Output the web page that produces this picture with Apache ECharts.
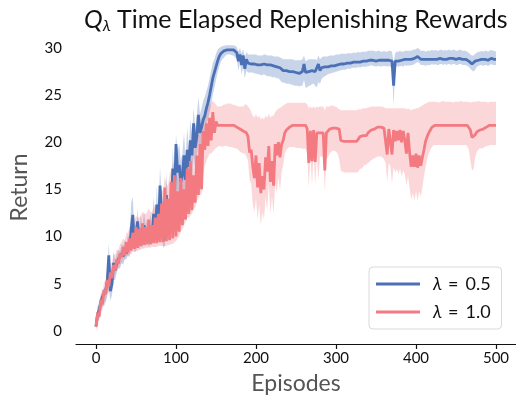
<!DOCTYPE html>
<html>
<head>
<meta charset="utf-8">
<script src="https://cdn.jsdelivr.net/npm/echarts@6/dist/echarts.min.js"></script>
<style>
html,body{margin:0;padding:0;background:#fff;}
#c{width:516px;height:404px;}
</style>
</head>
<body>
<div id="c"></div>
<script>
// Episodes sampled every 2 steps (0..500)
const EP_STEP = 2;
const xTicks = [0, 100, 200, 300, 400, 500];
const yTicks = [0, 5, 10, 15, 20, 25, 30];
const seriesNames = ['λ = 0.5', 'λ = 1.0'];

// lambda = 0.5 (blue): mean, lower band, upper band
const blueMean = [
 0.5,1.8,2.2,3.0,3.6,3.4,4.2,5.2,8.0,4.2,
 5.0,7.2,6.4,7.2,7.6,7.4,8.2,7.9,8.6,8.2,
 9.0,8.6,10.8,12.3,9.2,9.0,11.6,9.4,10.8,9.6,
 11.2,9.8,10.5,9.6,10.8,9.8,12.4,10.0,13.4,10.6,
 15.4,12.6,9.6,9.8,14.4,11.2,13.8,12.6,17.2,14.0,
 19.8,16.8,17.6,15.8,16.4,18.6,16.0,19.2,17.4,20.2,
 18.6,22.0,19.4,20.6,22.9,21.0,21.6,22.4,22.8,23.6,
 24.2,25.0,25.9,26.8,27.4,28.0,28.6,29.1,29.4,29.6,
 29.7,
 29.8,29.8,29.8,29.8,29.8,29.8,29.7,29.5,28.6,29.3,
 28.2,29.2,27.8,28.8,28.4,28.4,28.3,28.3,28.3,28.3,
 28.2,28.2,28.2,28.2,28.3,28.3,28.2,28.2,28.2,28.2,
 28.1,28.1,28.0,28.0,27.9,27.7,27.6,27.6,27.6,27.5,
 27.5,27.5,27.5,27.4,27.4,27.4,27.3,27.4,27.5,28.3,
 27.4,27.4,27.5,27.5,27.6,27.6,27.5,27.4,28.3,27.6,
 27.9,28.0,28.0,28.0,28.0,28.1,28.1,28.1,28.1,28.2,
 28.2,28.2,28.3,28.3,28.3,28.3,28.4,28.4,28.4,28.5,
 28.5,28.5,28.5,28.6,28.5,28.6,28.6,28.6,28.6,28.7,
 28.7,28.8,28.7,28.7,28.6,28.7,28.7,28.6,28.7,28.7,
 28.7,28.6,28.7,28.7,28.6,26.0,28.6,28.7,28.6,28.7,
 28.7,28.6,28.8,28.7,28.8,28.7,28.8,28.8,28.9,29.0,
 29.1,29.0,28.8,28.8,28.8,28.7,28.8,28.8,28.8,28.9,
 28.8,28.9,28.8,28.8,28.9,28.9,28.8,28.9,28.8,28.9,
 28.9,28.8,28.9,28.9,28.8,28.8,28.9,28.9,28.8,28.8,
 28.8,28.7,28.6,28.4,28.3,28.4,28.6,28.7,28.7,28.8,
 28.8,28.7,28.8,28.8,28.7,28.8,28.9,28.8,28.8,28.8
];
const blueLow = [
 0.2,1.0,1.4,2.0,2.6,2.6,3.0,3.6,4.4,3.2,
 3.8,5.4,5.4,6.2,6.6,6.6,7.2,7.0,7.6,7.6,
 8.0,7.8,8.6,9.6,8.4,8.4,9.0,8.6,9.0,8.8,
 9.2,9.0,9.2,8.9,9.2,9.1,9.6,9.2,10.4,9.6,
 11.6,10.0,8.8,9.0,10.6,9.8,10.6,10.6,12.4,11.6,
 15.0,13.6,14.0,13.2,13.8,15.2,13.8,16.0,15.0,17.0,
 16.2,18.6,17.2,18.2,20.0,18.8,19.6,20.4,21.0,21.8,
 22.4,23.2,24.0,25.0,25.8,26.6,27.4,28.0,28.5,28.8,
 29.0,
 29.2,29.3,29.3,29.3,29.2,29.2,29.0,28.8,27.6,28.4,
 27.2,28.0,26.8,27.6,27.4,27.4,27.4,27.4,27.3,27.3,
 27.2,27.2,27.1,27.1,27.2,27.1,27.0,27.0,27.0,26.9,
 26.9,26.9,26.8,26.8,26.6,26.4,26.3,26.3,26.2,26.2,
 26.2,26.1,26.1,26.0,26.0,26.0,25.9,26.0,26.0,26.6,
 25.8,25.8,26.0,26.0,26.2,26.2,26.0,25.8,26.4,26.2,
 26.7,26.9,27.0,27.1,27.2,27.3,27.3,27.4,27.4,27.5,
 27.5,27.6,27.6,27.7,27.7,27.7,27.8,27.8,27.8,27.9,
 27.9,27.9,27.9,28.0,27.9,28.0,28.0,28.0,28.0,28.1,
 28.1,28.2,28.1,28.1,28.0,28.1,28.1,28.0,28.1,28.1,
 28.1,28.0,28.1,28.0,27.8,23.8,27.9,28.1,28.0,28.1,
 28.1,28.0,28.2,28.1,28.2,28.1,28.2,28.2,28.3,28.4,
 28.5,28.4,28.2,28.2,28.2,28.1,28.2,28.2,28.2,28.3,
 28.2,28.3,28.2,28.2,28.3,28.3,28.2,28.3,28.2,28.3,
 28.3,28.2,28.3,28.3,28.2,28.2,28.3,28.3,28.2,28.2,
 28.2,28.1,28.0,27.8,27.6,27.5,27.7,28.0,28.1,28.2,
 28.2,28.1,28.2,28.2,28.1,28.2,28.3,28.2,28.2,28.2
];
const blueHigh = [
 0.9,2.6,3.0,3.8,4.4,4.4,5.2,6.4,9.3,5.6,
 6.2,8.4,7.4,8.2,8.6,8.4,9.2,9.0,9.6,9.4,
 10.2,9.8,13.6,14.2,10.4,10.2,13.0,10.6,12.4,11.0,
 12.8,11.2,12.0,11.0,12.4,11.2,14.2,11.6,15.4,12.2,
 17.4,14.6,12.0,11.4,16.8,13.0,16.0,14.6,19.4,16.4,
 20.8,19.0,19.8,18.0,18.8,21.0,18.2,21.6,19.6,22.4,
 20.8,23.6,21.6,22.8,24.8,23.0,23.6,24.4,24.8,25.4,
 26.0,26.8,27.6,28.4,28.8,29.4,29.8,30.0,30.1,30.2,
 30.2,
 30.3,30.3,30.3,30.3,30.3,30.3,30.2,30.1,29.6,30.0,
 29.4,29.9,29.0,29.6,29.3,29.3,29.3,29.3,29.3,29.3,
 29.2,29.2,29.2,29.2,29.3,29.3,29.2,29.2,29.2,29.2,
 29.1,29.1,29.1,29.1,29.0,28.9,28.8,28.8,28.8,28.8,
 28.8,28.8,28.8,28.7,28.7,28.7,28.7,28.7,28.8,29.2,
 28.6,28.7,28.8,28.8,28.8,28.8,28.8,28.7,29.2,28.8,
 29.0,29.1,29.1,29.1,29.1,29.2,29.2,29.2,29.2,29.3,
 29.3,29.3,29.4,29.4,29.4,29.4,29.4,29.5,29.4,29.5,
 29.5,29.5,29.5,29.6,29.5,29.6,29.6,29.6,29.6,29.7,
 29.7,29.7,29.7,29.7,29.6,29.7,29.7,29.6,29.6,29.7,
 29.6,29.6,29.7,29.7,29.6,28.4,29.5,29.6,29.6,29.7,
 29.6,29.6,29.7,29.7,29.7,29.7,29.7,29.8,29.8,29.9,
 30.0,29.9,29.7,29.7,29.7,29.6,29.7,29.7,29.7,29.8,
 29.7,29.8,29.7,29.7,29.8,29.8,29.7,29.8,29.7,29.8,
 29.8,29.7,29.8,29.8,29.7,29.7,29.8,29.8,29.7,29.7,
 29.7,29.6,29.5,29.3,29.2,29.2,29.4,29.5,29.6,29.6,
 29.7,29.6,29.7,29.7,29.6,29.7,29.8,29.7,29.7,29.6
];

// lambda = 1.0 (red): mean, lower band, upper band
const redMean = [
 0.4,1.9,1.5,3.3,2.8,4.3,3.9,5.4,4.7,6.2,
 5.6,7.0,6.4,7.6,7.1,8.2,7.8,8.9,8.0,9.4,
 8.3,9.8,8.5,10.4,8.7,11.0,8.8,10.8,9.0,11.4,
 9.1,11.0,9.2,11.8,9.2,11.2,9.3,12.0,9.3,12.4,
 9.4,13.5,9.4,15.2,9.5,14.0,9.6,15.8,9.8,16.5,
 10.0,14.8,10.5,16.2,11.2,15.0,11.8,17.2,12.4,18.0,
 12.8,16.5,13.6,18.6,14.4,19.8,15.0,21.2,19.2,22.0,
 19.6,22.6,20.2,23.2,21.0,22.2,21.8,21.9,21.8,21.8,
 21.8,
 21.8,21.8,21.8,21.8,21.8,21.8,21.7,21.6,21.5,21.4,
 21.3,21.2,21.2,21.0,20.6,18.9,19.2,17.4,16.2,18.6,
 15.2,17.8,14.6,16.4,15.0,18.4,16.9,19.6,15.8,18.0,
 15.4,19.8,18.6,20.0,18.4,19.8,20.2,21.0,21.3,21.5,
 21.6,21.7,21.8,21.8,21.8,21.8,21.8,21.8,21.8,21.8,
 21.8,21.4,17.8,21.2,18.0,21.3,17.9,21.0,21.0,21.0,
 21.0,21.0,17.0,21.0,21.2,21.4,21.5,21.5,21.5,21.5,
 21.5,21.4,20.2,20.1,20.1,20.1,20.1,20.1,20.1,20.1,
 20.1,20.1,20.1,20.3,20.6,20.4,20.7,20.9,20.7,21.0,
 21.1,21.3,21.2,21.4,21.5,21.6,21.6,21.6,21.6,21.5,
 21.4,18.7,21.4,21.2,18.7,21.3,20.1,21.2,20.2,21.3,
 20.0,21.2,20.2,18.8,21.0,18.9,17.4,18.6,17.4,18.8,
 17.3,18.6,17.5,18.4,19.2,20.1,20.6,21.0,21.3,21.6,
 21.8,21.8,21.8,21.8,21.8,21.8,21.8,21.8,21.8,21.8,
 21.8,21.8,21.8,21.8,21.8,21.8,21.8,21.8,21.8,21.8,
 21.8,21.8,21.7,21.3,20.5,20.4,20.8,21.1,21.2,21.3,
 21.2,21.4,21.5,21.6,21.6,21.8,21.8,21.8,21.8,21.8
];
const redLow = [
 0.1,0.8,1.0,2.0,2.2,3.0,3.2,4.0,4.0,4.8,
 5.0,5.6,5.8,6.5,6.6,7.0,7.2,7.6,7.6,8.0,
 7.9,8.2,8.1,8.4,8.3,8.5,8.4,8.6,8.6,8.7,
 8.7,8.8,8.8,8.8,8.8,8.9,8.9,8.9,8.9,9.0,
 9.0,9.0,9.0,9.0,9.0,9.1,9.1,9.2,9.2,9.4,
 9.5,9.8,10.0,10.5,10.8,11.2,11.5,12.0,12.0,12.2,
 12.4,13.0,13.0,13.8,14.0,14.5,14.4,16.5,17.5,18.0,
 18.4,18.8,18.8,19.0,19.2,19.4,19.5,19.6,19.6,19.5,
 19.6,
 19.6,19.6,19.5,19.5,19.5,19.4,19.4,19.3,19.2,19.0,
 18.9,18.8,18.8,18.5,18.0,16.0,15.6,13.4,12.6,14.0,
 11.8,13.4,11.2,12.6,11.8,14.2,12.8,15.6,12.4,14.2,
 12.4,15.6,14.6,16.4,14.8,16.8,17.6,18.8,19.2,19.4,
 19.5,19.5,19.5,19.5,19.4,19.4,19.4,19.4,19.3,19.3,
 19.3,18.8,15.2,18.6,15.4,18.8,15.4,18.6,16.0,18.5,
 18.5,18.4,14.8,18.2,18.4,18.8,19.0,19.1,19.1,19.0,
 18.8,18.2,17.0,16.9,16.8,16.8,16.8,16.8,16.8,16.8,
 16.8,16.8,16.8,16.9,17.2,17.2,17.4,17.6,17.6,17.8,
 17.9,18.1,18.2,18.3,18.4,18.5,18.5,18.5,18.4,18.2,
 17.8,15.8,17.8,17.4,15.6,17.4,16.8,17.2,16.6,17.2,
 16.4,17.0,16.6,15.4,16.4,15.2,13.9,14.6,13.8,14.8,
 13.8,14.8,14.2,15.2,16.4,17.4,18.2,18.8,19.2,19.5,
 19.7,19.7,19.7,19.7,19.7,19.7,19.7,19.7,19.7,19.7,
 19.7,19.7,19.7,19.7,19.7,19.7,19.7,19.7,19.7,19.7,
 19.7,19.6,19.2,18.0,17.0,17.2,18.4,19.0,19.2,19.4,
 19.3,19.4,19.5,19.6,19.6,19.7,19.7,19.7,19.7,19.7
];
const redHigh = [
 0.8,2.6,2.6,4.0,4.0,5.2,5.2,6.4,6.4,7.2,
 7.2,8.2,8.0,8.6,8.6,9.2,9.4,9.8,9.6,10.4,
 10.4,11.0,10.8,11.6,11.8,12.2,12.0,12.0,12.2,12.6,
 12.4,12.4,12.6,13.0,12.6,12.6,13.0,13.4,13.2,13.6,
 14.2,14.8,15.0,16.4,15.6,15.4,16.6,17.0,17.8,17.6,
 16.4,16.4,17.2,17.6,17.0,17.4,18.4,19.0,19.6,19.6,
 18.6,18.6,19.8,20.2,21.0,21.4,22.4,22.8,23.4,23.6,
 23.8,24.0,24.2,24.4,24.2,24.0,23.8,23.8,23.8,23.9,
 24.0,
 24.0,24.1,24.1,24.1,24.0,24.0,23.9,23.9,23.8,23.8,
 23.8,23.8,24.0,24.0,23.8,23.6,23.2,22.8,22.6,23.0,
 22.6,22.8,22.4,22.6,22.4,22.8,22.6,23.0,22.6,22.8,
 22.8,23.2,23.4,23.6,23.6,23.8,23.9,24.0,24.1,24.2,
 24.2,24.2,24.2,24.2,24.2,24.2,24.2,24.2,24.2,24.2,
 24.2,24.0,23.6,23.8,23.6,23.8,23.6,23.8,23.7,23.8,
 23.8,23.8,23.4,23.8,23.8,23.8,23.9,23.9,23.8,23.8,
 23.6,23.5,23.4,23.4,23.4,23.4,23.4,23.4,23.4,23.4,
 23.4,23.4,23.4,23.5,23.5,23.5,23.6,23.6,23.6,23.7,
 23.7,23.8,23.8,23.8,23.8,23.8,23.8,23.8,23.8,23.7,
 23.6,23.6,23.6,23.6,23.6,23.6,23.6,23.6,23.6,23.6,
 23.6,23.6,23.6,23.5,23.6,23.5,23.4,23.5,23.5,23.6,
 23.6,23.7,23.8,23.9,24.0,24.1,24.2,24.3,24.3,24.3,
 24.3,24.3,24.3,24.2,24.3,24.3,24.4,24.3,24.3,24.3,
 24.3,24.3,24.2,24.3,24.3,24.3,24.3,24.4,24.3,24.3,
 24.3,24.3,24.3,24.2,24.3,24.3,24.3,24.3,24.4,24.3,
 24.3,24.3,24.3,24.3,24.2,24.3,24.3,24.3,24.3,24.3
];

const BLUE = '#4a71b6';
const RED = '#f47a81';
const BLUE_BAND = 'rgba(74,113,182,0.30)';
const RED_BAND = 'rgba(244,122,129,0.30)';
const FONT = 'Lato, "DejaVu Sans", sans-serif';

function pts(arr) { return arr.map((v, i) => [i * EP_STEP, v]); }

function bandSeries(name, lo, hi, fill) {
  return {
    name: name, type: 'custom', silent: true, z: 1,
    data: [[0, lo[0]]],
    renderItem: function (params, api) {
      const top = hi.map((v, i) => api.coord([i * EP_STEP, v]));
      const bot = lo.map((v, i) => api.coord([i * EP_STEP, v])).reverse();
      return { type: 'polygon', shape: { points: top.concat(bot) }, style: { fill: fill } };
    }
  };
}

const chart = echarts.init(document.getElementById('c'), null, { renderer: 'canvas' });
chart.setOption({
  animation: false,
  backgroundColor: '#fff',
  title: {
    text: '{q|Q}{s|λ} Time Elapsed Replenishing Rewards',
    left: 79, top: 1,
    textStyle: {
      fontFamily: FONT, fontSize: 25, fontWeight: 'normal', color: '#111',
      rich: {
        q: { fontFamily: FONT, fontSize: 25, fontStyle: 'italic', color: '#111' },
        s: { fontFamily: FONT, fontSize: 16, fontStyle: 'italic', color: '#111', padding: [12, 0, 0, 0] }
      }
    }
  },
  legend: {
    data: seriesNames.map(n => ({ name: n, icon: 'rect' })),
    orient: 'vertical',
    left: 369, top: 267,
    padding: [8, 11, 8, 7],
    itemGap: 10,
    itemWidth: 44, itemHeight: 3,
    borderColor: '#d9d9d9', borderWidth: 1, borderRadius: 4,
    backgroundColor: 'rgba(255,255,255,0.85)',
    formatter: function (n) {
      const parts = n.split(' = ');
      return '{i|λ}{e|=}{n|' + parts[1] + '}';
    },
    textStyle: {
      fontFamily: FONT, fontSize: 18, color: '#111', padding: [0, 0, 0, 8],
      rich: {
        i: { fontFamily: FONT, fontSize: 18, fontStyle: 'italic', color: '#111' },
        e: { fontFamily: FONT, fontSize: 18, color: '#111', padding: [0, 7, 0, 6] },
        n: { fontFamily: FONT, fontSize: 18, color: '#111' }
      }
    }
  },
  grid: { left: 72, top: 31, width: 446, height: 313, containLabel: false },
  xAxis: {
    type: 'value', min: -25, max: 525,
    name: 'Episodes', nameLocation: 'middle', nameGap: 28,
    nameTextStyle: { fontFamily: FONT, fontSize: 23, color: '#555' },
    axisLine: { show: true, onZero: false, lineStyle: { color: '#111', width: 1.2 } },
    axisTick: { show: true, length: 5, customValues: xTicks, lineStyle: { color: '#111', width: 1.2 } },
    axisLabel: { customValues: xTicks, margin: 7, fontFamily: FONT, fontSize: 15, color: '#111' },
    splitLine: { show: false }
  },
  yAxis: {
    type: 'value', min: -1.4, max: 31.8,
    name: 'Return', nameLocation: 'middle', nameGap: 45, nameRotate: 90,
    nameTextStyle: { fontFamily: FONT, fontSize: 23, color: '#555' },
    axisLine: { show: false },
    axisTick: { show: false },
    axisLabel: { customValues: yTicks, margin: 14, fontFamily: FONT, fontSize: 15, color: '#111' },
    splitLine: { show: false }
  },
  series: [
    bandSeries('b_band', blueLow, blueHigh, BLUE_BAND),
    { name: seriesNames[0], type: 'line', data: pts(blueMean), symbol: 'none', color: BLUE,
      lineStyle: { width: 2.8, color: BLUE }, z: 2 },
    bandSeries('r_band', redLow, redHigh, RED_BAND),
    { name: seriesNames[1], type: 'line', data: pts(redMean), symbol: 'none', color: RED,
      lineStyle: { width: 2.8, color: RED }, z: 3 }
  ]
});
</script>
</body>
</html>
